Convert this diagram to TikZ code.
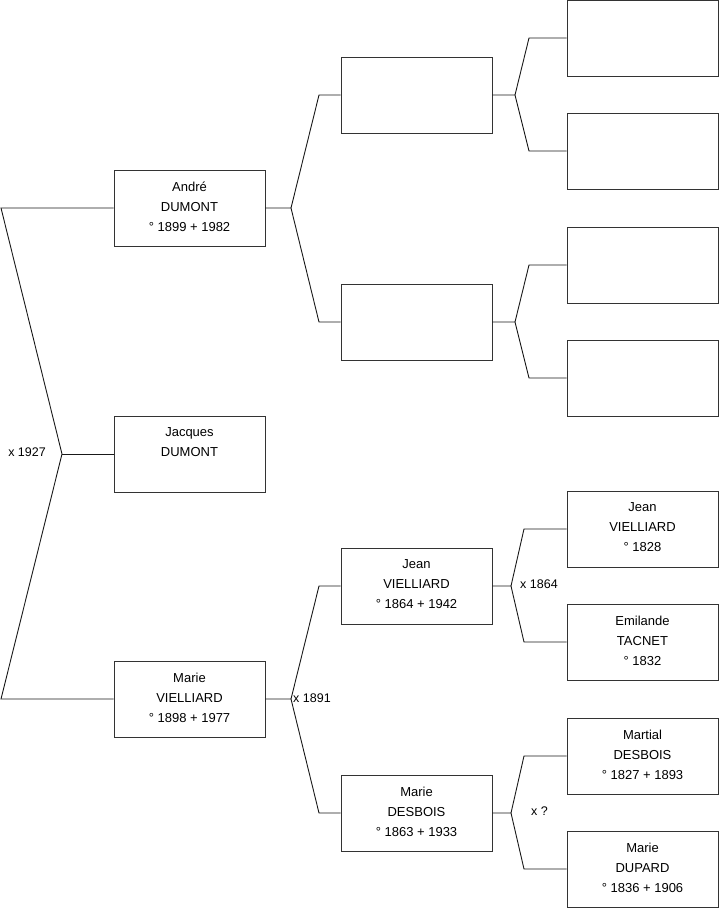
\documentclass[tikz,border=0pt]{standalone}
\usepackage{fontspec}
\setmainfont{Liberation Sans}
\begin{document}
\begin{tikzpicture}[x=1pt,y=-1pt,
  person/.style={draw=black!80,line width=0.9pt,rectangle,minimum width=151pt,minimum height=76pt,inner sep=0pt,
    label={[inner sep=0pt,align=center,font=\fontsize{13}{20}\selectfont,yshift=1.5pt]center:#1}},
  person/.default={},
  link/.style={draw=black!90,line width=0.9pt},
  lbl/.style={inner sep=0pt,font=\fontsize{12.5}{14}\selectfont}]
\useasboundingbox (0,0) rectangle (719,908);
% generation 1
\node[person={André\\DUMONT\\° 1899 + 1982}] (a) at (189.5,208) {};
\node[person={Jacques\\DUMONT\\\mbox{}}] (j) at (189.5,454) {};
\node[person={Marie\\VIELLIARD\\° 1898 + 1977}] (m) at (189.5,699) {};
% generation 2
\node[person] (b1) at (416.5,95) {};
\node[person] (b2) at (416.5,322) {};
\node[person={Jean\\VIELLIARD\\° 1864 + 1942}] (b3) at (416.5,586) {};
\node[person={Marie\\DESBOIS\\° 1863 + 1933}] (b4) at (416.5,813) {};
% generation 3
\node[person] (c1) at (642.5,38) {};
\node[person] (c2) at (642.5,151) {};
\node[person] (c3) at (642.5,265) {};
\node[person] (c4) at (642.5,378) {};
\node[person={Jean\\VIELLIARD\\° 1828}] (c5) at (642.5,529) {};
\node[person={Emilande\\TACNET\\° 1832}] (c6) at (642.5,642) {};
\node[person={Martial\\DESBOIS\\° 1827 + 1893}] (c7) at (642.5,756) {};
\node[person={Marie\\DUPARD\\° 1836 + 1906}] (c8) at (642.5,869) {};
% connector points
\coordinate (L1) at (1,208);
\coordinate (L2) at (62,454);
\coordinate (L3) at (1,699);
\coordinate (A0) at (291,208);
\coordinate (A1) at (319,95);
\coordinate (A2) at (319,322);
\coordinate (M0) at (291,699);
\coordinate (M1) at (319,586);
\coordinate (M2) at (319,813);
\coordinate (P0) at (515,95);
\coordinate (P1) at (529,38);
\coordinate (P2) at (529,151);
\coordinate (Q0) at (515,322);
\coordinate (Q1) at (529,265);
\coordinate (Q2) at (529,378);
\coordinate (R0) at (511,586);
\coordinate (R1) at (524,529);
\coordinate (R2) at (524,642);
\coordinate (S0) at (511,813);
\coordinate (S1) at (524,756);
\coordinate (S2) at (524,869);
% connectors
\draw[link] (a.west) -- (L1) -- (L2) -- (L3) -- (m.west);
\draw[link] (L2) -- (j.west);
\draw[link] (a.east) -- (A0) -- (A1) -- (b1.west);
\draw[link] (A0) -- (A2) -- (b2.west);
\draw[link] (m.east) -- (M0) -- (M1) -- (b3.west);
\draw[link] (M0) -- (M2) -- (b4.west);
\draw[link] (b1.east) -- (P0) -- (P1) -- (c1.west);
\draw[link] (P0) -- (P2) -- (c2.west);
\draw[link] (b2.east) -- (Q0) -- (Q1) -- (c3.west);
\draw[link] (Q0) -- (Q2) -- (c4.west);
\draw[link] (b3.east) -- (R0) -- (R1) -- (c5.west);
\draw[link] (R0) -- (R2) -- (c6.west);
\draw[link] (b4.east) -- (S0) -- (S1) -- (c7.west);
\draw[link] (S0) -- (S2) -- (c8.west);
% marriage labels
\node[lbl,anchor=east] (x1) at (46,452) {x 1927};
\node[lbl,anchor=west] (x2) at (293,698) {x 1891};
\node[lbl,anchor=west] (x3) at (520,584) {x 1864};
\node[lbl,anchor=west] (x4) at (531,811) {x ?};
\end{tikzpicture}
\end{document}
